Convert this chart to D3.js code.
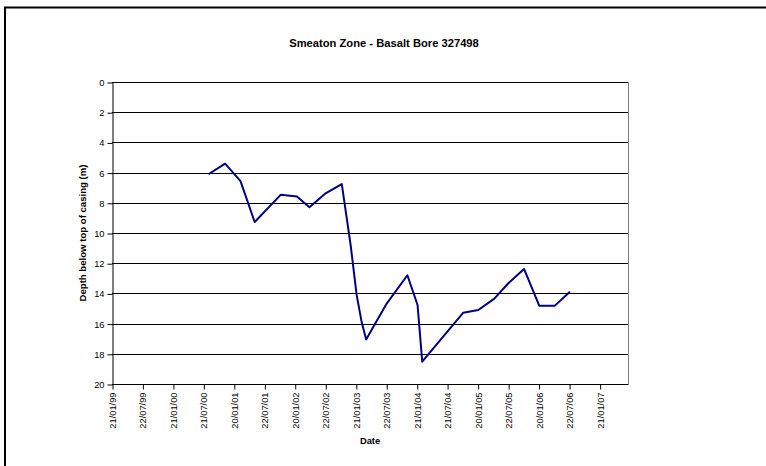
<!DOCTYPE html>
<html>
<head>
<meta charset="utf-8">
<script src="https://cdn.jsdelivr.net/npm/d3@7"></script>
<style>
  body { margin: 0; background: #fff; }
  text { font-family: "Liberation Sans", Arial, sans-serif; }
</style>
</head>
<body>
<svg id="chart" width="766" height="466"></svg>
<script>
// readings (date, depth below top of casing in m)
const dates = [
  "2000-08-21", "2000-11-29", "2001-03-01", "2001-05-25", "2001-10-29",
  "2002-02-02", "2002-04-18", "2002-07-21", "2002-10-29", "2002-12-21",
  "2003-01-26", "2003-02-25", "2003-03-24", "2003-04-26", "2003-07-26",
  "2003-11-26", "2004-01-26", "2004-02-23", "2004-10-26", "2005-01-24",
  "2005-04-30", "2005-07-23", "2005-10-25", "2006-01-24", "2006-04-28",
  "2006-07-27"
];
const depths = [
  6.11, 5.41, 6.56, 9.27, 7.46,
  7.59, 8.30, 7.40, 6.76, 10.8,
  14.1, 15.9, 17.05, 16.4, 14.66,
  12.8, 14.77, 18.52, 15.28, 15.1,
  14.35, 13.33, 12.38, 14.81, 14.81,
  13.89
];
const xTickLabels = [
  "21/01/99", "22/07/99", "21/01/00", "21/07/00", "20/01/01", "22/07/01",
  "20/01/02", "22/07/02", "21/01/03", "22/07/03", "21/01/04", "21/07/04",
  "20/01/05", "22/07/05", "20/01/06", "22/07/06", "21/01/07"
];
const yTicks = [0, 2, 4, 6, 8, 10, 12, 14, 16, 18, 20];

const parseIso = d3.timeParse("%Y-%m-%d");
const parseLabel = d3.timeParse("%d/%m/%y");
const data = dates.map((d, i) => ({ date: parseIso(d), depth: depths[i] }));

const svg = d3.select("#chart");
const plotLeft = 112, plotTop = 82, plotRight = 628, plotBottom = 384;

// outer chart border (runs off the right and bottom of the picture)
svg.append("rect")
  .attr("x", 5).attr("y", 7.5)
  .attr("width", 800).attr("height", 500)
  .attr("fill", "none").attr("stroke", "#000").attr("stroke-width", 2);

const x = d3.scaleTime()
  .domain([parseLabel("21/01/99"), parseIso("2007-07-10")])
  .range([plotLeft, plotRight]);
const y = d3.scaleLinear().domain([0, 20]).range([plotTop, plotBottom]);

// title
svg.append("text")
  .attr("x", 384).attr("y", 47)
  .attr("text-anchor", "middle")
  .attr("font-size", 11.2).attr("font-weight", "bold")
  .text("Smeaton Zone - Basalt Bore 327498");

// gridlines
svg.append("g")
  .selectAll("line")
  .data(yTicks)
  .join("line")
  .attr("x1", plotLeft).attr("x2", plotRight)
  .attr("y1", d => Math.round(y(d)) + 0.5).attr("y2", d => Math.round(y(d)) + 0.5)
  .attr("stroke", "#000").attr("stroke-width", 1);

// plot area right border
svg.append("line")
  .attr("x1", plotRight + 0.5).attr("x2", plotRight + 0.5)
  .attr("y1", plotTop).attr("y2", plotBottom)
  .attr("stroke", "#808080");

// y axis
const yAxis = d3.axisLeft(y).tickValues(yTicks).tickSize(5).tickSizeOuter(0).tickPadding(3);
const gy = svg.append("g")
  .attr("transform", `translate(${plotLeft + 0.5},0.5)`)
  .call(yAxis);
gy.select(".domain").attr("stroke", "#000");
gy.selectAll("text").attr("font-size", 9.3).attr("font-family", "Liberation Sans, Arial, sans-serif");

// x axis
const tickDates = xTickLabels.map(parseLabel);
const xAxis = d3.axisBottom(x)
  .tickValues(tickDates)
  .tickFormat((d, i) => xTickLabels[i])
  .tickSize(5).tickSizeOuter(0);
const gx = svg.append("g")
  .attr("transform", `translate(0.5,${Math.round(plotBottom) + 0.5})`)
  .call(xAxis);
gx.select(".domain").attr("stroke", "#000").attr("d", `M${plotLeft},0H${plotRight}`);
gx.selectAll("text")
  .attr("font-size", 9.3).attr("font-family", "Liberation Sans, Arial, sans-serif")
  .attr("transform", "rotate(-90)")
  .attr("text-anchor", "end")
  .attr("x", -8).attr("y", 0).attr("dy", "0.32em");

// axis titles
svg.append("text")
  .attr("x", 370).attr("y", 444)
  .attr("text-anchor", "middle")
  .attr("font-size", 9.3).attr("font-weight", "bold")
  .text("Date");
svg.append("text")
  .attr("transform", `translate(86,${(plotTop + plotBottom) / 2}) rotate(-90)`)
  .attr("text-anchor", "middle")
  .attr("font-size", 9.6).attr("font-weight", "bold")
  .text("Depth below top of casing (m)");

// series
const line = d3.line().x(d => x(d.date)).y(d => y(d.depth));
svg.append("path")
  .datum(data)
  .attr("d", line)
  .attr("fill", "none")
  .attr("stroke", "#000080")
  .attr("stroke-width", 2)
  .attr("stroke-linejoin", "round");
</script>
</body>
</html>
